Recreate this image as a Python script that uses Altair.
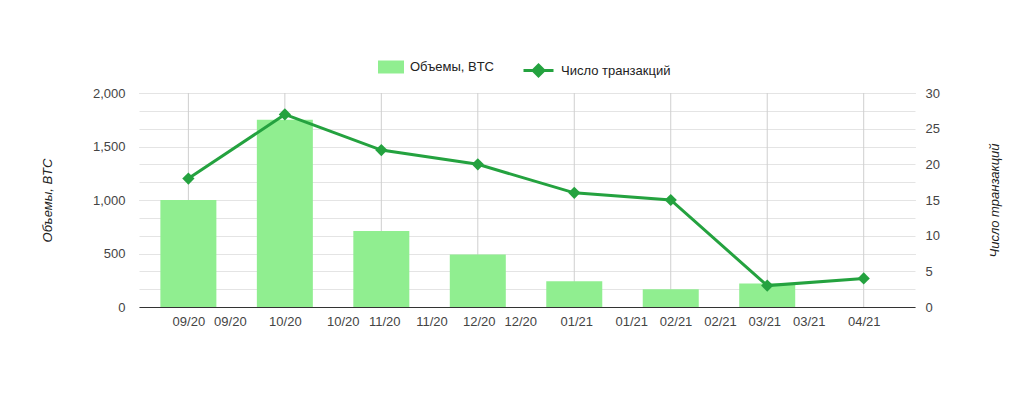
import altair as alt
import pandas as pd

months = ["09/20", "10/20", "11/20", "12/20", "01/21", "02/21", "03/21", "04/21"]
volumes = [1000, 1750, 710, 490, 240, 165, 220, 0]
tx_counts = [18, 27, 22, 20, 16, 15, 3, 4]
x_tick_pos = [0, 0.43, 1, 1.6, 2.03, 2.52, 3.01, 3.44, 4.02, 4.59, 5.05, 5.51, 5.97, 6.43, 7]
left_ticks = [0, 500, 1000, 1500, 2000]
right_ticks = [0, 2.5, 5, 7.5, 10, 12.5, 15, 17.5, 20, 22.5, 25, 27.5, 30]
vol_name = "Объемы, BTC"
tx_name = "Число транзакций"

BAR_COLOR = "#90ee90"
LINE_COLOR = "#24a23f"
FONT = "Liberation Sans"

df = pd.DataFrame({"idx": list(range(len(months))), "month": months,
                   "vol": volumes, "tx": tx_counts})
df["s1"] = vol_name
df["s2"] = tx_name

label_expr = "[" + ",".join(f"'{m}'" for m in months) + "][floor(datum.value + 0.1)]"

xscale = alt.Scale(domain=[-0.46, 7.48], nice=False, zero=False)
xaxis = alt.Axis(values=x_tick_pos, labelExpr=label_expr, grid=False, ticks=False,
                 domain=True, domainColor="#333333", domainWidth=1, labelPadding=8,
                 labelFontSize=13, labelColor="#444444", labelFont=FONT, title=None,
                 labelOverlap=False)
X = alt.X("idx:Q", scale=xscale, axis=xaxis)

vrules = alt.Chart(df).mark_rule(color="#cfcfcf", strokeWidth=1).encode(x=X)

bars = alt.Chart(df).mark_bar(size=56).encode(
    x=X,
    y=alt.Y("vol:Q", scale=alt.Scale(domain=[0, 2000], nice=False),
            axis=alt.Axis(orient="left", values=left_ticks, format=",d", grid=True,
                          gridColor="#cccccc", ticks=False, domain=False,
                          labelPadding=14, labelFontSize=13, labelColor="#444444",
                          labelFont=FONT, title=vol_name, titleFont=FONT,
                          titleFontSize=13, titleFontWeight="normal",
                          titleFontStyle="italic", titleColor="#222222",
                          titleAngle=270, titleX=-92, titleY=107,
                          titleAlign="center", titleBaseline="middle")),
    color=alt.Color("s1:N", scale=alt.Scale(domain=[vol_name], range=[BAR_COLOR]),
                    legend=alt.Legend(title=None, orient="none", legendX=239, legendY=-39,
                                      direction="horizontal",
                                      symbolType="M-1,-0.5H1V0.5H-1Z", symbolSize=676,
                                      symbolStrokeWidth=0, symbolOpacity=1,
                                      labelFontSize=13, labelFont=FONT,
                                      labelColor="#222222", labelOffset=6)),
)

yline = alt.Y("tx:Q", scale=alt.Scale(domain=[0, 30], nice=False),
              axis=alt.Axis(orient="right", values=right_ticks,
                            labelExpr="datum.value % 5 == 0 ? datum.label : ''",
                            grid=True, gridColor="#e4e4e4", ticks=False, domain=False,
                            labelPadding=10, labelFontSize=13, labelColor="#444444",
                            labelFont=FONT, title=tx_name, titleFont=FONT,
                            titleFontSize=13, titleFontWeight="normal",
                            titleFontStyle="italic", titleColor="#222222",
                            titleAngle=270, titleX=79, titleY=107,
                            titleAlign="center", titleBaseline="middle"))

line = alt.Chart(df).mark_line(color=LINE_COLOR, strokeWidth=3).encode(x=X, y=yline)

points = alt.Chart(df).mark_point(shape="diamond", size=150, filled=True, opacity=1).encode(
    x=X,
    y=yline,
    color=alt.Color("s2:N", scale=alt.Scale(domain=[tx_name], range=[LINE_COLOR]),
                    legend=alt.Legend(title=None, orient="none", legendX=383, legendY=-39,
                                      direction="horizontal",
                                      symbolType="M-1,0H1M0,-0.36L0.36,0L0,0.36L-0.36,0Z",
                                      symbolSize=900, symbolStrokeWidth=3,
                                      symbolStrokeColor=LINE_COLOR,
                                      symbolFillColor=LINE_COLOR, symbolOpacity=1,
                                      labelFontSize=13, labelFont=FONT,
                                      labelColor="#222222", labelOffset=6)),
)

right = alt.layer(line, points)

chart = alt.layer(vrules, bars, right).resolve_scale(
    y="independent", color="independent"
).properties(
    width=776, height=214,
    autosize=alt.AutoSizeParams(type="none"),
    padding={"left": 131, "top": 85, "right": 101, "bottom": 86},
    background="white",
).configure_view(stroke=None)

chart.save("out.html", embed_options={"renderer": "svg", "actions": False})
